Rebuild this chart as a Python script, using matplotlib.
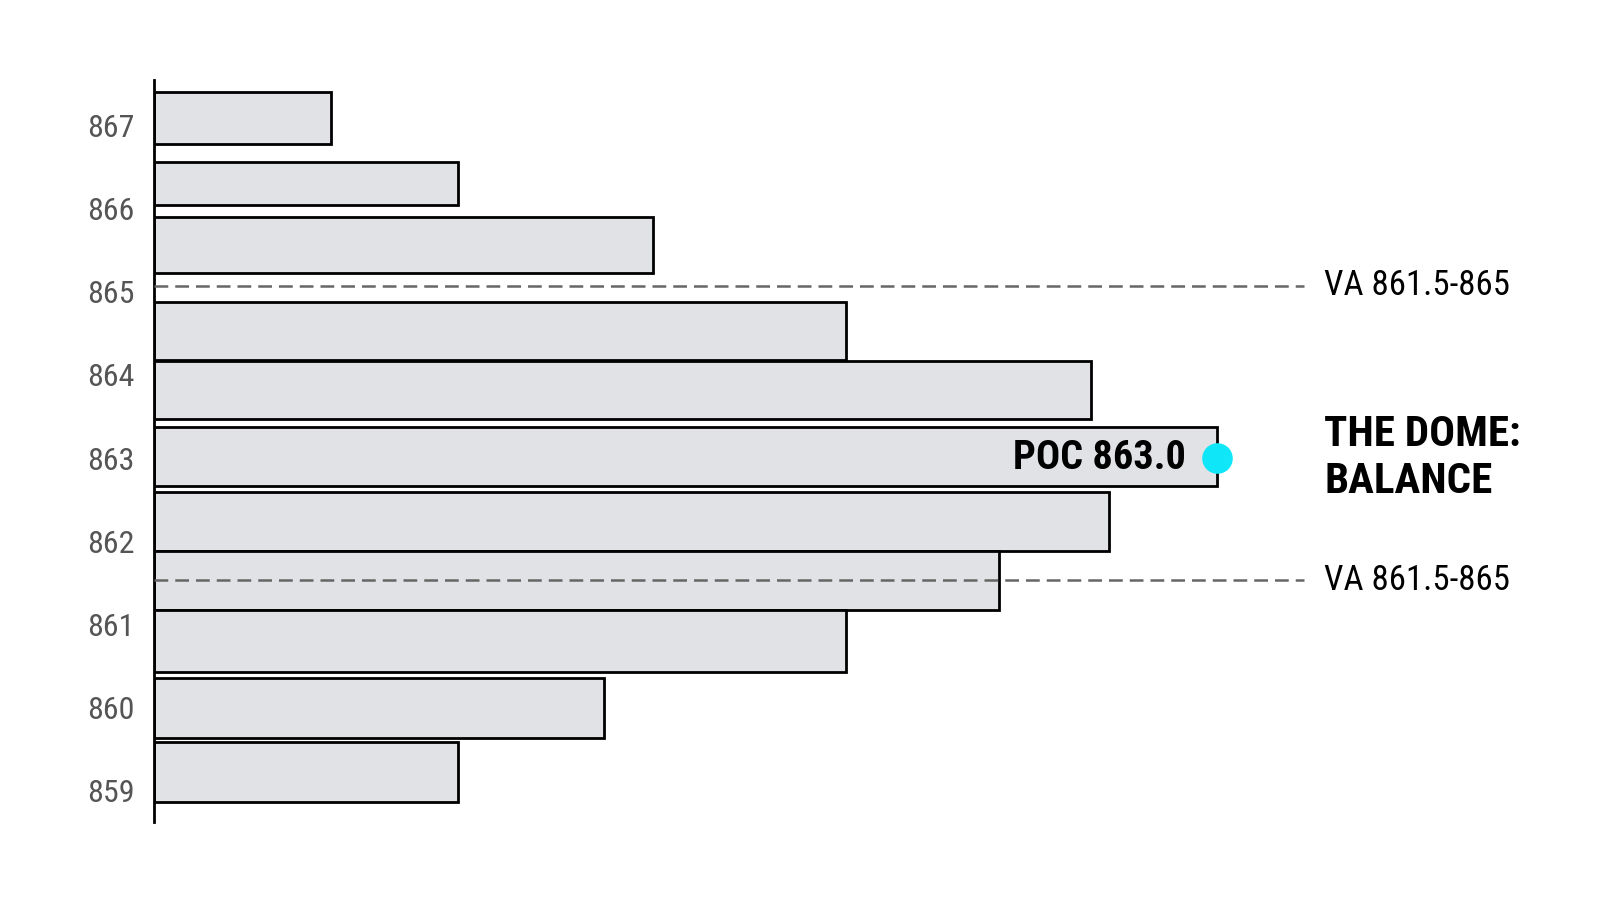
import matplotlib.pyplot as plt

# volume profile levels (price centre of each bar), bar thickness and volume
levels = [867.09, 866.30, 865.56, 864.53, 863.82, 863.02, 862.24, 861.53, 860.80, 860.00, 859.23]
thickness = [0.63, 0.52, 0.67, 0.69, 0.70, 0.71, 0.71, 0.71, 0.74, 0.72, 0.72]
volume = [173, 298, 489, 678, 918, 1042, 936, 828, 678, 441, 298]

tick_prices = [859, 860, 861, 862, 863, 864, 865, 866, 867]
va_high = 865.07
va_low = 861.53
va_label = "VA 861.5-865"
poc_price = 863.0
poc_volume = 1042
poc_label = "POC 863.0"
title_text = "THE DOME:\nBALANCE"

plt.rcParams["font.family"] = ["Roboto Condensed", "DejaVu Sans"]

fig = plt.figure(figsize=(16, 9.14), dpi=100)
ax = fig.add_axes([0.09625, 0.1002, 1 - 0.09625, 0.8127])

ax.barh(levels, volume, height=thickness, left=0, color="#e1e2e5",
        edgecolor="black", linewidth=2.0, align="center", zorder=2)

for y in (va_high, va_low):
    ax.plot([0, 1127], [y, y], color="#666666", lw=1.8, dashes=(5.5, 2.8), zorder=3)
    ax.text(1147, y, va_label, fontsize=25, color="black", va="center", ha="left")

ax.plot([poc_volume], [poc_price], "o", color="#0fe6f8", markersize=21, zorder=4,
        clip_on=False)
ax.text(poc_volume - 31, poc_price, poc_label, fontsize=29, fontweight="bold",
        ha="right", va="center", zorder=5)
ax.text(1147, 863.0, title_text, fontsize=31, fontweight="bold", ha="left", va="center",
        linespacing=1.2)

ax.set_xlim(0, 1417)
ax.set_ylim(858.62, 867.55)
ax.set_yticks(tick_prices)
ax.set_yticklabels([str(t) for t in tick_prices])
ax.tick_params(axis="y", length=0, pad=14, labelsize=23, labelcolor="#555555")
ax.set_xticks([])
for s in ("top", "right", "bottom"):
    ax.spines[s].set_visible(False)
ax.spines["left"].set_linewidth(2.0)

fig.savefig("out.png", dpi=100)
